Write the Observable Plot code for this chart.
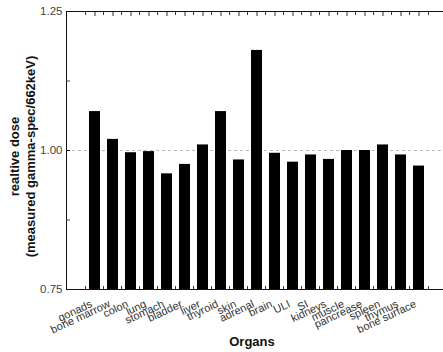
<!DOCTYPE html>
<html>
<head>
<meta charset="utf-8">
<script src="https://cdn.jsdelivr.net/npm/d3@7"></script>
<script src="https://cdn.jsdelivr.net/npm/@observablehq/plot@0.6"></script>
<style>
  html, body { margin: 0; padding: 0; background: #fff; }
  #chart { width: 443px; height: 352px; overflow: hidden; }
</style>
</head>
<body>
<div id="chart"></div>
<script>
const organs = ["gonads", "bone marrow", "colon", "lung", "stomach", "bladder", "liver", "thyroid", "skin", "adrenal", "brain", "ULI", "SI", "kidneys", "muscle", "pancrease", "spleen", "thymus", "bone surface"];
const dose = [1.070, 1.020, 0.996, 0.998, 0.958, 0.975, 1.010, 1.070, 0.983, 1.180, 0.995, 0.979, 0.992, 0.984, 1.000, 1.000, 1.010, 0.992, 0.972];
const yTicks = [0.75, 1.00, 1.25];
const yMinorTicks = [0.875, 1.125];
const yTitle = "realtive dose\n(measured gamma-spec/662keV)";
const xTitle = "Organs";

const data = organs.map((organ, i) => ({organ, dose: dose[i]}));

const width = 443, height = 352;
const marginLeft = 66, marginRight = -4, marginTop = 11, marginBottom = 63;
const paddingInner = 0.38, paddingOuter = 0.75;
const step = (width - marginLeft - marginRight) / (organs.length - paddingInner + 2 * paddingOuter);
const font = "'Liberation Sans', Arial, Helvetica, sans-serif";

const chart = Plot.plot({
  width, height, marginLeft, marginRight, marginTop, marginBottom,
  style: {fontFamily: font, background: "#fff", color: "#111"},
  x: {domain: organs, paddingInner, paddingOuter, axis: null},
  y: {domain: [yTicks[0], yTicks[yTicks.length - 1]], axis: null},
  marks: [
    Plot.ruleY([yTicks[1]], {stroke: "#bbb", strokeDasharray: "3,3"}),
    Plot.barY(data, {x: "organ", y1: yTicks[0], y2: "dose", fill: "#000"}),
    Plot.frame({stroke: "#111"}),
    // y axes
    Plot.axisY({anchor: "left", ticks: yTicks, tickSize: -4, tickPadding: 8, tickFormat: d3.format(".2f"), label: null, fontSize: 11.5, fill: "#444", stroke: "#111"}),
    Plot.axisY({anchor: "left", ticks: yMinorTicks, tickSize: -4, tickFormat: () => "", label: null, stroke: "#444"}),
    Plot.axisY({anchor: "right", ticks: yTicks.concat(yMinorTicks), tickSize: -4, tickFormat: () => "", label: null, stroke: "#444"}),
    // x ticks top (centers and midpoints)
    Plot.axisX({anchor: "top", tickSize: -4, tickFormat: () => "", label: null, stroke: "#333"}),
    Plot.axisX({anchor: "top", tickSize: -3, dx: -step / 2, tickFormat: () => "", label: null, stroke: "#333"}),
    Plot.axisX({anchor: "top", ticks: organs.slice(-1), tickSize: -3, dx: step / 2, tickFormat: () => "", label: null, stroke: "#333"}),
    // x ticks bottom (midpoints)
    Plot.axisX({anchor: "bottom", tickSize: -3, dx: -step / 2, tickFormat: () => "", label: null, stroke: "#333"}),
    Plot.axisX({anchor: "bottom", ticks: organs.slice(-1), tickSize: -3, dx: step / 2, tickFormat: () => "", label: null, stroke: "#333"}),
    // x tick labels
    Plot.text(organs, {x: d => d, frameAnchor: "bottom", dy: 17, dx: -2, rotate: -25, textAnchor: "end", fontSize: 11, fill: "#333"}),
    // titles
    Plot.text([yTitle], {frameAnchor: "left", dx: -45, dy: 6, rotate: -90, textAnchor: "middle", lineAnchor: "middle", lineHeight: 1.25, fontWeight: "bold", fontSize: 13, fill: "#111"}),
    Plot.text([xTitle], {frameAnchor: "bottom", dx: -5, dy: 56, fontWeight: "bold", fontSize: 13, fill: "#111"})
  ]
});
document.getElementById("chart").append(chart);
</script>
</body>
</html>
